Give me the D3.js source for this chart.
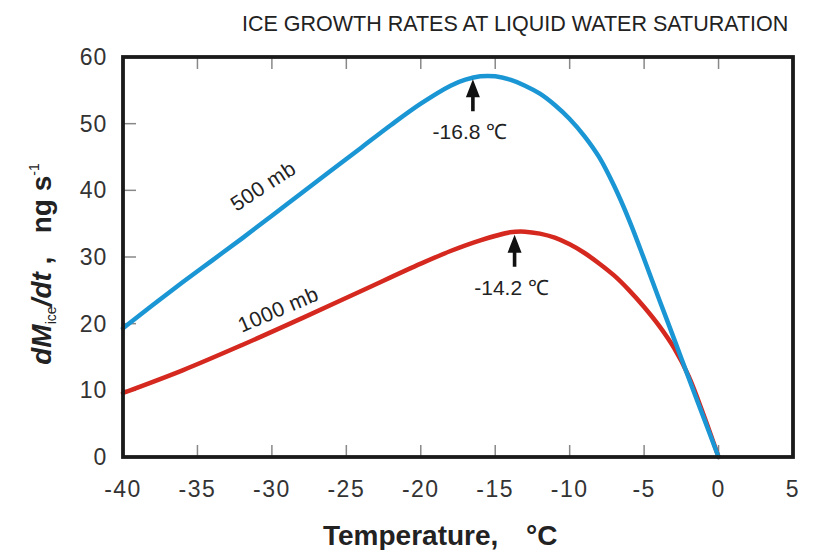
<!DOCTYPE html>
<html>
<head>
<meta charset="utf-8">
<script src="https://cdn.jsdelivr.net/npm/d3@7"></script>
<style>
html,body{margin:0;padding:0;background:#fff;}
svg{display:block;font-family:"Liberation Sans",Arial,Helvetica,sans-serif;}
</style>
</head>
<body>
<svg id="chart" width="818" height="550"></svg>
<script>
// ---- data ----
const title = "ICE GROWTH RATES AT LIQUID WATER SATURATION";
const xTicks = [-40, -35, -30, -25, -20, -15, -10, -5, 0, 5];
const yTicks = [0, 10, 20, 30, 40, 50, 60];
const temps500 = [-40,-38,-36,-34,-32,-30,-28,-26,-24,-22,-20,-18,-17,-16,-15,-14,-13,-12,-11,-10,-9,-8,-7,-6,-5,-4,-3,-2,-1,0];
const rate500  = [19.3,22.8,26.2,29.5,32.8,36.2,39.6,43.0,46.4,49.8,53.0,55.7,56.6,57.1,57.1,56.6,55.7,54.5,52.8,50.7,48.1,44.9,40.6,35.5,29.7,23.7,17.8,11.8,5.9,0];
const temps1000 = [-40,-36,-32,-28,-24,-20,-18,-16,-14,-13,-12,-11,-10,-9,-8,-7,-6,-5,-4,-3,-2,-1,0];
const rate1000  = [9.6,13.0,16.8,20.8,24.9,29.0,30.9,32.5,33.7,33.8,33.5,32.9,31.9,30.6,29.0,27.2,25.0,22.5,19.7,16.4,12.1,6.3,0];
const peakLabels = ["-16.8 \u2103", "-14.2 \u2103"];
const peakTemps = [-16.5, -13.7];     // arrow positions
const peakRates = [57.1, 33.8];
const curveLabels = ["500 mb", "1000 mb"];

// ---- layout ----
const svg = d3.select("#chart");
const L = 123, R = 793, T = 57, B = 457;
const x = d3.scaleLinear().domain([-40, 5]).range([L, R]);
const y = d3.scaleLinear().domain([0, 60]).range([B, T]);
const blue = "#1b96d4", red = "#d5281f";

// title
svg.append("text").attr("x", 242).attr("y", 31)
  .attr("font-size", 21.5).attr("fill", "#222")
  .text(title);

// ticks inside
const tg = svg.append("g").attr("stroke", "#888").attr("stroke-width", 1.5);
xTicks.slice(1, -1).forEach(t => {
  tg.append("line").attr("x1", x(t)).attr("x2", x(t)).attr("y1", T).attr("y2", T + 12);
  tg.append("line").attr("x1", x(t)).attr("x2", x(t)).attr("y1", B).attr("y2", B - 12);
});
yTicks.slice(1, -1).forEach(v => {
  tg.append("line").attr("x1", L).attr("x2", L + 13).attr("y1", y(v)).attr("y2", y(v));
});

// curves
const line = d3.line().x(d => x(d[0])).y(d => y(d[1])).curve(d3.curveCatmullRom.alpha(0.5));
svg.append("path").datum(temps1000.map((t, i) => [t, rate1000[i]]))
  .attr("d", line).attr("fill", "none").attr("stroke", red).attr("stroke-width", 4.5).attr("stroke-linecap", "round");
svg.append("path").datum(temps500.map((t, i) => [t, rate500[i]]))
  .attr("d", line).attr("fill", "none").attr("stroke", blue).attr("stroke-width", 4.5).attr("stroke-linecap", "round");

// frame
svg.append("rect").attr("x", L).attr("y", T).attr("width", R - L).attr("height", B - T)
  .attr("fill", "none").attr("stroke", "#1a1a1a").attr("stroke-width", 3.8);

// tick labels
svg.append("g").selectAll("text").data(xTicks).join("text")
  .attr("x", d => x(d)).attr("y", 497).attr("text-anchor", "middle")
  .attr("font-size", 23).attr("fill", "#333").attr("letter-spacing", 1.5)
  .text(d => d);
svg.append("g").selectAll("text").data(yTicks).join("text")
  .attr("x", 107).attr("y", d => y(d) + 8).attr("text-anchor", "end")
  .attr("font-size", 23).attr("fill", "#333").attr("letter-spacing", 0.8)
  .text(d => d);

// axis titles
svg.append("text").attr("x", 323).attr("y", 545)
  .attr("font-size", 28).attr("font-weight", "bold").attr("fill", "#222")
  .text("Temperature,");
svg.append("text").attr("x", 526).attr("y", 545)
  .attr("font-size", 28).attr("font-weight", "bold").attr("fill", "#222")
  .text("\u00B0C");

const yt = svg.append("text").attr("transform", "translate(51,264) rotate(-90)")
  .attr("text-anchor", "middle").attr("font-size", 28).attr("font-weight", "bold").attr("fill", "#222")
  .attr("xml:space", "preserve");
yt.append("tspan").attr("font-style", "italic").text("dM");
yt.append("tspan").attr("font-size", 14).attr("font-weight", "normal").attr("dy", 5).text("ice");
yt.append("tspan").attr("font-style", "italic").attr("dy", -5).text("/dt");
yt.append("tspan").text(" ,   ng s");
yt.append("tspan").attr("font-size", 14).attr("font-weight", "normal").attr("dy", -12).text("-1");

// arrows + peak labels
peakTemps.forEach((t, i) => {
  const px = x(t), tip = y(peakRates[i]) + 3;
  const hw = 7, hh = 18, len = 32, sw = 1.8;
  svg.append("path")
    .attr("d", `M${px},${tip} L${px + hw},${tip + hh} L${px + sw},${tip + hh} L${px + sw},${tip + len} L${px - sw},${tip + len} L${px - sw},${tip + hh} L${px - hw},${tip + hh} Z`)
    .attr("fill", "#111");
  svg.append("text").attr("x", px - 3).attr("y", tip + len + 28).attr("text-anchor", "middle")
    .attr("font-size", 21).attr("fill", "#222").text(peakLabels[i]);
});

// curve labels
svg.append("text").attr("transform", "translate(267,192) rotate(-33)")
  .attr("text-anchor", "middle").attr("font-size", 21).attr("fill", "#222").attr("letter-spacing", 0.5)
  .text(curveLabels[0]);
svg.append("text").attr("transform", "translate(281,316) rotate(-23)")
  .attr("text-anchor", "middle").attr("font-size", 21).attr("fill", "#222").attr("letter-spacing", 0.5)
  .text(curveLabels[1]);
</script>
</body>
</html>
